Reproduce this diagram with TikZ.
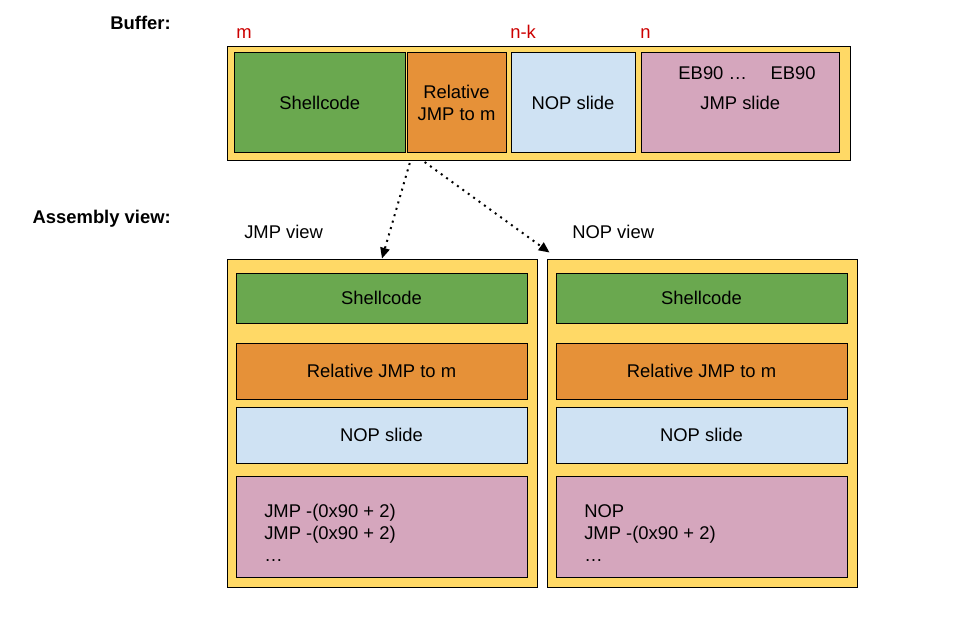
\documentclass[tikz,border=0pt]{standalone}
\usepackage{fontspec}
\setmainfont{Liberation Sans}
\usepackage{tikz}
\usetikzlibrary{arrows.meta}

\definecolor{shellgreen}{HTML}{6AA84F}
\definecolor{jmporange}{HTML}{E69138}
\definecolor{nopblue}{HTML}{CFE2F3}
\definecolor{slidepink}{HTML}{D5A6BD}
\definecolor{bufyellow}{HTML}{FFD966}
\definecolor{offsetred}{HTML}{CC0000}

\newcommand{\pu}{0.75pt}

\begin{document}
\begin{tikzpicture}[x=\pu, y=-\pu,
        font=\fontsize{13.8}{16.5}\selectfont,
        frame/.style={draw=black, line width=0.75pt, fill=bufyellow, inner sep=0pt},
        part/.style={draw=black, line width=0.75pt, inner sep=0pt, align=center},
        offset/.style={text=offsetred, anchor=base west, inner sep=0pt},
        heading/.style={font=\fontsize{13.8}{16.5}\selectfont\bfseries, anchor=base east, inner sep=0pt},
        caption/.style={anchor=base west, inner sep=0pt},
        code/.style={anchor=west, align=left, inner sep=0pt},
        view/.style={line width=1.5pt, dash pattern=on 1.5pt off 3.5pt, shorten <=2pt,
            -{Triangle[length=8pt,width=7pt]}}]
        \useasboundingbox (0,0) rectangle (959,631);

        % buffer layout
        \node[heading] (buflabel) at (171,30) {Buffer:};
        \node[frame, minimum width=623*\pu, minimum height=113.5*\pu] (buf) at (538.5,103.25) {};
        \node[part, fill=shellgreen, minimum width=171.5*\pu, minimum height=100.5*\pu] (bshell) at (319.75,102.75) {Shellcode};
        \node[part, fill=jmporange, minimum width=99*\pu, minimum height=100.5*\pu] (brel) at (456.5,102.75) {Relative\\JMP to m};
        \node[part, fill=nopblue, minimum width=124*\pu, minimum height=100.5*\pu] (bnop) at (573,102.75) {NOP slide};
        \node[part, fill=slidepink, minimum width=197.5*\pu, minimum height=100.5*\pu] (bjmp) at (740.25,102.75) {JMP slide};
        \node[anchor=base, inner sep=0pt] (bbytes) at (747,79.6) {EB90 …\hspace{1.28em}EB90};
        \node[offset] (offm) at (236,39) {m};
        \node[offset] (offnk) at (510,39) {n-k};
        \node[offset] (offn) at (640,39) {n};

        % assembly views
        \node[heading] (asmlabel) at (171,223) {Assembly view:};
        \node[caption] (jmpcap) at (244,238) {JMP view};
        \node[caption] (nopcap) at (572,238) {NOP view};

        \node[frame, minimum width=310*\pu, minimum height=328*\pu] (jmpbox) at (382,423) {};
        \node[part, fill=shellgreen, minimum width=291*\pu, minimum height=50*\pu] (jshell) at (381.5,298) {Shellcode};
        \node[part, fill=jmporange, minimum width=291*\pu, minimum height=56*\pu] (jrel) at (381.5,371) {Relative JMP to m};
        \node[part, fill=nopblue, minimum width=291*\pu, minimum height=56*\pu] (jnop) at (381.5,435) {NOP slide};
        \node[part, fill=slidepink, minimum width=291*\pu, minimum height=101*\pu] (jslide) at (381.5,526.5) {};
        \node[code] (jcode) at (264,533.3) {JMP -(0x90 + 2)\\JMP -(0x90 + 2)\\…};

        \node[frame, minimum width=310*\pu, minimum height=328*\pu] (nopbox) at (702,423) {};
        \node[part, fill=shellgreen, minimum width=291*\pu, minimum height=50*\pu] (nshell) at (701.5,298) {Shellcode};
        \node[part, fill=jmporange, minimum width=291*\pu, minimum height=56*\pu] (nrel) at (701.5,371) {Relative JMP to m};
        \node[part, fill=nopblue, minimum width=291*\pu, minimum height=56*\pu] (nnop) at (701.5,435) {NOP slide};
        \node[part, fill=slidepink, minimum width=291*\pu, minimum height=101*\pu] (nslide) at (701.5,526.5) {};
        \node[code] (ncode) at (584,533.3) {NOP\\JMP -(0x90 + 2)\\…};

        % the two readings of the jump
        \coordinate (jmpfrom) at ([xshift=3pt]brel.west |- buf.south);
        \coordinate (nopfrom) at ([xshift=12pt]brel.west |- buf.south);
        \draw[view] (jmpfrom) -- (jmpbox.north);
        \draw[view] (nopfrom) -- ([xshift=2.25pt,yshift=4.5pt]nopbox.north west);
\end{tikzpicture}
\end{document}
